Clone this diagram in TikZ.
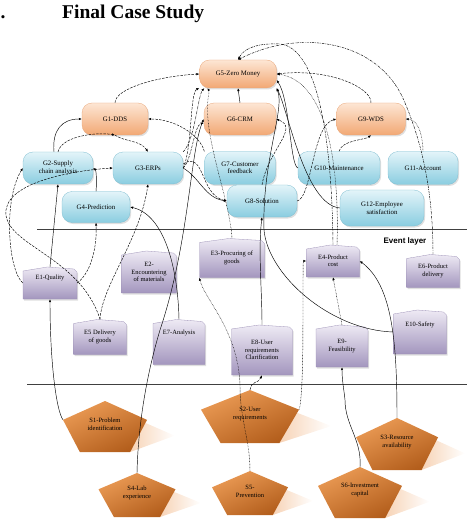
\documentclass[tikz,border=0pt]{standalone}
\usepackage{fontspec}
\setmainfont{Liberation Serif}
\newfontfamily\arialf{Liberation Sans}
\usetikzlibrary{shadows,arrows.meta,calc}
\definecolor{gtop}{HTML}{FDE6D4}
\definecolor{gbot}{HTML}{F2A874}
\definecolor{gline}{HTML}{E9A678}
\definecolor{btop}{HTML}{E3F4F9}
\definecolor{bbot}{HTML}{8ACDE0}
\definecolor{bline}{HTML}{7DBDD0}
\definecolor{etop}{HTML}{EEEAF4}
\definecolor{ebot}{HTML}{A396BE}
\definecolor{eline}{HTML}{9C90B6}
\definecolor{sittop}{HTML}{EB9B55}
\definecolor{sitbot}{HTML}{B35E1C}
\definecolor{sshad}{HTML}{F7D3B6}
\tikzset{
  goalbox/.style={rounded corners=10pt, top color=gtop, bottom color=gbot, draw=gline, line width=.3pt,
    drop shadow={opacity=.25,shadow xshift=1.2pt,shadow yshift=-1.5pt},
    font=\fontsize{6.8}{7.4}\selectfont, align=center, inner sep=1pt},
  bluebox/.style={goalbox, top color=btop, bottom color=bbot, draw=bline},
  evshape/.style={top color=etop, bottom color=ebot, draw=eline, line width=.3pt,
    drop shadow={opacity=.25,shadow xshift=1.2pt,shadow yshift=-1.5pt}},
  evtext/.style={font=\fontsize{6.5}{7.2}\selectfont, align=center, inner sep=0pt},
  sittext/.style={font=\fontsize{6.5}{8}\selectfont, align=center, inner sep=0pt},
  conn/.style={line width=.45pt, -{Latex[length=3pt,width=2.4pt]}},
  dsh/.style={conn, dash pattern=on 2.5pt off 1.2pt},
  dtt/.style={conn, dash pattern=on .6pt off .9pt},
  ddt/.style={conn, dash pattern=on 2.5pt off 1pt on .6pt off 1pt},
  layerline/.style={line width=.5pt, black!75}
}
% name, cx, cy, w, h, text
\newcommand\evnode[6]{%
  \shade[evshape] (#2-#4/2,#3+#5/2) -- (#2-#4/2,#3-#5/2+4) -- (#2-0.05*#4,#3-#5/2) --
    (#2+#4/2-3,#3-#5/2+2) -- (#2+#4/2,#3-#5/2+5) -- (#2+#4/2,#3+#5/2) -- cycle;
  \node[evtext, minimum width=#4pt, minimum height=#5pt] (#1) at (#2,#3) {#6};
}
% name, apex x, apex y, w, h, text
\newcommand\sitnode[6]{%
  \shade[left color=sshad, right color=white] (#2+0.3*#4,#3+0.3*#5) -- (#2+0.83*#4,#3+0.68*#5) -- (#2+0.3*#4,#3+#5) -- cycle;
  \shade[top color=sittop, bottom color=sitbot, shading angle=25] (#2,#3) -- (#2+#4/2,#3+0.37*#5) -- (#2+0.3*#4,#3+#5) --
    (#2-0.3*#4,#3+#5) -- (#2-#4/2,#3+0.37*#5) -- cycle;
  \node[minimum width=#4pt, minimum height=#5pt, inner sep=0pt] (#1) at (#2,#3+#5/2) {};
  \node[sittext] (#1t) at (#2,#3+0.46*#5) {#6};
  \coordinate (#1l) at (#2-#4/2,#3+0.37*#5);
  \coordinate (#1r) at (#2+#4/2,#3+0.37*#5);
}
\begin{document}
\begin{tikzpicture}[x=1pt,y=-1pt]
\useasboundingbox (0,0) rectangle (467,521);
\node[anchor=base west, font=\fontsize{19.5}{21}\selectfont\bfseries, inner sep=0pt] (dot) at (0.5,19) {.};
\node[anchor=base west, font=\fontsize{19.5}{21}\selectfont\bfseries, inner sep=0pt] (title) at (62,19) {Final Case Study};

% layer lines
\draw[layerline] (37,229) coordinate (l1a) -- (467,229) coordinate (l1b);
\draw[layerline] (27,384) coordinate (l2a) -- (467,384) coordinate (l2b);
\node[font=\arialf\bfseries\fontsize{8}{9}\selectfont, inner sep=0pt] (evlayer) at (405,241) {Event layer};

% goal layer
\node[goalbox, minimum width=77pt, minimum height=28pt] (G5) at (238,74) {G5-Zero Money};
\node[goalbox, minimum width=66pt, minimum height=32pt] (G1) at (115,119) {G1-DDS};
\node[goalbox, minimum width=72pt, minimum height=32pt] (G6) at (240,119) {G6-CRM};
\node[goalbox, minimum width=69pt, minimum height=32pt] (G9) at (371,119) {G9-WDS};
\node[bluebox, minimum width=70pt, minimum height=32pt] (G2) at (58,168) {G2-Supply\\chain analysis};
\node[bluebox, minimum width=70pt, minimum height=32pt] (G3) at (148,168) {G3-ERPs};
\node[bluebox, minimum width=71pt, minimum height=33pt] (G7) at (240,168) {G7-Customer\\feedback};
\node[bluebox, minimum width=82pt, minimum height=33pt] (G10) at (339,168) {G10-Maintenance};
\node[bluebox, minimum width=70pt, minimum height=33pt] (G11) at (423,168) {G11-Account};
\node[bluebox, minimum width=68pt, minimum height=31pt] (G4) at (96,207) {G4-Prediction};
\node[bluebox, minimum width=70pt, minimum height=32pt] (G8) at (262,201) {G8-Solution};
\node[bluebox, minimum width=84pt, minimum height=36pt] (G12) at (382,208) {G12-Employee\\satisfaction};

% event layer
\evnode{E1}{50}{283}{54}{32}{E1-Quality\\[5pt]}
\evnode{E2}{149}{272}{55}{42}{E2-\\Encountering\\of materials}
\evnode{E3}{232}{258}{65}{39}{E3-Procuring of\\goods}
\evnode{E4}{333}{261}{53}{32}{E4-Product\\cost}
\evnode{E6}{433}{271}{53}{33}{E6-Product\\delivery}
\evnode{E5}{100}{337}{53}{35}{E5 Delivery\\of goods}
\evnode{E7}{179}{342}{52}{45}{E7-Analysis\\[12pt]}
\evnode{E8}{262}{350}{61}{50}{E8-User\\requirements\\Clarification}
\evnode{E9}{342}{346}{52}{42}{E9-\\Feasibility}
\evnode{E10}{420}{332}{53}{44}{E10-Safety\\[9pt]}

% situation layer
\sitnode{S1}{105}{401}{84}{51}{S1-Problem\\identification}
\sitnode{S2}{250}{390}{98}{53}{S2-User\\requirements}
\sitnode{S3}{397}{418}{82}{52}{S3-Resource\\availability}
\sitnode{S4}{137}{473}{77}{44}{S4-Lab\\experience}
\sitnode{S5}{250}{471}{76}{44}{S5-\\Prevention}
\sitnode{S6}{360}{467}{84}{51}{S6-Investment\\capital}

% connectors
\draw[dsh] (G1.north) .. controls (115,88) and (160,76) .. (G5.west);
\draw[conn] (G6.north) -- (G5.south);
\draw[dsh] (G9.north) .. controls (372,88) and (330,68) .. (G5.east);
\draw[ddt] (E4.north) .. controls (332,140) and (318,48) .. (280,44) .. controls (258,43) and (244,48) .. (G5.north);
\draw[ddt] (E6.north) .. controls (433,200) and (425,150) .. (405,103) .. controls (380,40) and (300,28) .. (G5.north);
\draw[dtt] (G11.north) .. controls (423,140) and (420,120) .. (G9.east);
\draw[dsh] (G10.north) .. controls (342,140) and (365,140) .. (G9.south);
\draw[dsh] (G8.east) .. controls (312,198) and (312,125) .. (G9.west);
\draw[dsh] (G8.north) .. controls (268,150) and (300,128) .. (G6.east);
\draw[conn] (E8.north) .. controls (262,290) and (258,250) .. (G8.south);
\draw[conn] (S3.north) .. controls (397,340) and (392,285) .. (E4.east);
\draw[conn] (S6.north) .. controls (362,440) and (345,425) .. (345,400) .. controls (344,390) and (342,380) .. (E9.south);
\draw[dsh] (S2.north) .. controls (252,380) and (258,384) .. (E8.south);
\draw[dtt] (S2r) .. controls (303,398) and (303,340) .. (303,300) .. controls (303,270) and (303,261) .. (E4.west);
\draw[conn] (S1l) .. controls (56,410) and (50,360) .. (E1.south);
\draw[conn] (S4.north) .. controls (138,430) and (145,380) .. (160,330) .. controls (190,240) and (190,150) .. (G6.west);
\draw[conn] (E7.north) .. controls (178,270) and (165,215) .. (G4.east);
\draw[conn] (E1.north) -- (G2.south);
\draw[dsh] (E1.east) .. controls (92,272) and (97,245) .. (G4.south);
\draw[dsh] (E1.west) .. controls (8,270) and (3,200) .. (G2.west);
\draw[dsh] (E5.north) .. controls (80,255) and (2,245) .. (6,210) .. controls (10,180) and (80,170) .. (G3.west);
\draw[dsh] (E5.north) .. controls (102,285) and (140,240) .. (G3.south);
\draw[dsh] (G2.north) .. controls (62,135) and (100,132) .. (G1.south);
\draw[dsh] (G1.south) .. controls (125,142) and (140,140) .. (G3.north);
\draw[conn] ([xshift=-4pt]G2.north) .. controls (52,130) and (62,119) .. (G1.west);
\draw[conn] (G4.north) .. controls (97,180) and (96,170) .. (G2.east);
\draw[dsh] (G7.north west) .. controls (200,135) and (175,119) .. (G1.east);
\draw[dsh] (G3.east) .. controls (192,150) and (190,92) .. (G5.south west);
\draw[ddt] (G3.north east) .. controls (195,140) and (198,95) .. ([xshift=5pt]G5.south west);
\draw[dsh] (G3.east) .. controls (192,160) and (194,125) .. ([yshift=-4pt]G6.west);
\draw[conn] (G3.east) .. controls (200,178) and (205,198) .. (G8.west);
\draw[dsh] ([yshift=4pt]G3.east) .. controls (205,150) and (200,195) .. (G8.west);
\draw[dtt] (E3.north) .. controls (230,205) and (212,160) .. (208,120) .. controls (206,100) and (210,92) .. ([xshift=8pt]G5.south west);
\draw[dtt] (S5.north) .. controls (250,440) and (240,420) .. (240,385) .. controls (238,330) and (205,300) .. (E3.south west);
\draw[conn] (E10.west) .. controls (330,330) and (268,275) .. (264,230) .. controls (262,160) and (285,110) .. (G5.south east);
\draw[conn] (G12.west) .. controls (305,205) and (288,110) .. (G5.south east);
\draw[conn] (G10.west) .. controls (290,165) and (290,100) .. ([yshift=-6pt]G5.east);
\draw[dtt] (E9.north) -- (E4.south);
\draw[dtt] ([xshift=4pt]E4.north) .. controls (340,150) and (322,80) .. (G5.east);
\end{tikzpicture}
\end{document}
